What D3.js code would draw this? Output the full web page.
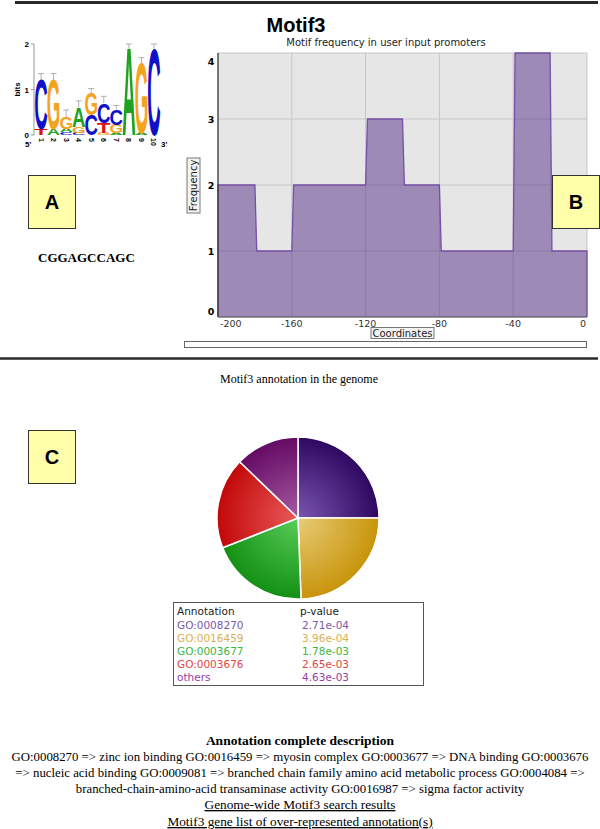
<!DOCTYPE html>
<html>
<head>
<meta charset="utf-8">
<script src="https://cdn.jsdelivr.net/npm/d3@7"></script>
<style>
  body { margin: 0; background: #fff; }
  svg { display: block; }
</style>
</head>
<body>
<div id="fig"></div>
<script>
// --- data ---

// sequence logo (panel A): letters per position, bottom to top, in bits
const logoPositions = [1, 2, 3, 4, 5, 6, 7, 8, 9, 10];
const logoStacks = [
  [['T', 0.13], ['C', 1.07]],
  [['A', 0.13], ['G', 1.07]],
  [['C', 0.06], ['A', 0.08], ['G', 0.24]],
  [['C', 0.04], ['G', 0.14], ['A', 0.42]],
  [['C', 0.44], ['G', 0.47]],
  [['G', 0.05], ['T', 0.22], ['C', 0.43]],
  [['A', 0.05], ['G', 0.18], ['C', 0.33]],
  [['A', 1.88]],
  [['A', 0.05], ['G', 1.52]],
  [['C', 1.86]]
];
const logoErrTop = [1.35, 1.35, 0.55, 0.75, 1.02, 0.85, 0.65, 2.0, 1.7, 2.0];
const logoTicks = [0, 1, 2];
const consensus = 'CGGAGCCAGC';

// motif frequency (panel B): 20-bp bins
const binStarts = [-200, -180, -160, -140, -120, -100, -80, -60, -40, -20];
const binCounts = [2, 1, 2, 2, 3, 2, 1, 1, 4, 1];
const coordTicks = [-200, -160, -120, -80, -40, 0];
const freqTicks = [0, 1, 2, 3, 4];

// annotation pie (panel C)
const annotations = ['GO:0008270', 'GO:0016459', 'GO:0003677', 'GO:0003676', 'others'];
const pValues = ['2.71e-04', '3.96e-04', '1.78e-03', '2.65e-03', '4.63e-03'];
const shares = [25, 24.4, 19.6, 18.2, 12.8];

const descLines = [
  'GO:0008270 => zinc ion binding GO:0016459 => myosin complex GO:0003677 => DNA binding GO:0003676',
  '=> nucleic acid binding GO:0009081 => branched chain family amino acid metabolic process GO:0004084 =>',
  'branched-chain-amino-acid transaminase activity GO:0016987 => sigma factor activity'
];
const linkLines = ['Genome-wide Motif3 search results', 'Motif3 gene list of over-represented annotation(s)'];

// --- drawing ---
const W = 600, H = 829;
const svg = d3.select('#fig').append('svg')
  .attr('width', W)
  .attr('height', H);

const sans = 'DejaVu Sans, sans-serif';
const arial = 'Liberation Sans, Arial, sans-serif';
const serif = 'Liberation Serif, Times New Roman, serif';

// separators
svg.append('line').attr('x1', 15).attr('x2', 598).attr('y1', 2.5).attr('y2', 2.5)
  .attr('stroke', '#2a2a2a').attr('stroke-width', 3);
svg.append('line').attr('x1', 0).attr('x2', 598).attr('y1', 358.5).attr('y2', 358.5)
  .attr('stroke', '#2a2a2a').attr('stroke-width', 2.5);

// ---------- panel A: sequence logo ----------
const letterColor = { A: '#1fa21f', C: '#1010c8', G: '#f4a31c', T: '#e01010' };
const xLogo = d3.scaleBand().domain(logoPositions).range([35, 160]).paddingInner(0.04);
const yLogo = d3.scaleLinear().domain([0, 2]).range([135, 44]);

const logo = svg.append('g');
logo.append('line').attr('x1', 34).attr('x2', 34).attr('y1', yLogo(2)).attr('y2', yLogo(0))
  .attr('stroke', '#999');
logo.selectAll('.lt').data(logoTicks).enter().append('line')
  .attr('x1', 31).attr('x2', 34)
  .attr('y1', (d) => yLogo(d)).attr('y2', (d) => yLogo(d))
  .attr('stroke', '#999');
logo.selectAll('.ltl').data(logoTicks).enter().append('text')
  .attr('x', 29).attr('y', (d) => yLogo(d) + 3)
  .attr('text-anchor', 'end')
  .attr('font-family', arial).attr('font-size', 8).attr('font-weight', 'bold')
  .text((d) => d);
logo.append('text')
  .attr('transform', `translate(20,${yLogo(1)}) rotate(-90)`)
  .attr('text-anchor', 'middle')
  .attr('font-family', arial).attr('font-size', 8).attr('font-weight', 'bold')
  .text('bits');

// error bars
logo.selectAll('.err').data(logoStacks).enter().append('path')
  .attr('d', (s, i) => {
    const cx = xLogo(logoPositions[i]) + xLogo.bandwidth() / 2;
    const top = d3.sum(s, (l) => l[1]);
    return `M${cx},${yLogo(top)}V${yLogo(logoErrTop[i])}M${cx - 3},${yLogo(logoErrTop[i])}H${cx + 3}`;
  })
  .attr('fill', 'none').attr('stroke', '#b0b0b0').attr('stroke-width', 1);

// letters: draw each glyph at 100px, then scale it into its box
const capH = 68.8;
logoStacks.forEach((stack, i) => {
  const x0 = xLogo(logoPositions[i]);
  const w = xLogo.bandwidth();
  let acc = 0;
  stack.forEach(([ch, bits]) => {
    const yb = yLogo(acc);
    const h = yLogo(0) - yLogo(bits);
    acc += bits;
    const t = logo.append('text')
      .attr('font-family', arial).attr('font-size', 100).attr('font-weight', 'bold')
      .attr('fill', letterColor[ch])
      .text(ch);
    const adv = t.node().getComputedTextLength();
    t.attr('transform', `translate(${x0 - w * 0.06},${yb}) scale(${(w * 1.12) / adv},${h / capH})`);
  });
});

// position numbers
logo.selectAll('.pn').data(logoPositions).enter().append('text')
  .attr('transform', (d) => `translate(${xLogo(d) + xLogo.bandwidth() / 2 - 2.5},138) rotate(90)`)
  .attr('font-family', arial).attr('font-size', 7).attr('font-weight', 'bold')
  .text((d) => d);
logo.append('text').attr('x', 25).attr('y', 147).attr('font-family', arial)
  .attr('font-size', 8).attr('font-weight', 'bold').text("5'");
logo.append('text').attr('x', 161).attr('y', 147).attr('font-family', arial)
  .attr('font-size', 8).attr('font-weight', 'bold').text("3'");

svg.append('text').attr('x', 38).attr('y', 262)
  .attr('font-family', serif).attr('font-size', 13).attr('font-weight', 'bold')
  .text(consensus);

// ---------- panel B: frequency step chart ----------
const plot = { left: 218, right: 587, top: 53, bottom: 317 };
const x = d3.scaleLinear().domain([-200, 0]).range([plot.left, plot.right]);
const y = d3.scaleLinear().domain([0, 4]).range([plot.bottom, plot.top]);

svg.append('text').attr('x', 296).attr('y', 32).attr('text-anchor', 'middle')
  .attr('font-family', arial).attr('font-size', 20).attr('font-weight', 'bold')
  .text('Motif3');
svg.append('text').attr('x', 386).attr('y', 46).attr('text-anchor', 'middle')
  .attr('font-family', sans).attr('font-size', 10).attr('fill', '#222')
  .text('Motif frequency in user input promoters');

svg.append('rect')
  .attr('x', plot.left).attr('y', plot.top)
  .attr('width', plot.right - plot.left).attr('height', plot.bottom - plot.top)
  .attr('fill', '#e6e6e6');

svg.selectAll('.gx').data(coordTicks).enter().append('line')
  .attr('x1', (d) => x(d)).attr('x2', (d) => x(d))
  .attr('y1', plot.top).attr('y2', plot.bottom)
  .attr('stroke', '#c6c6c6');
svg.selectAll('.gy').data(freqTicks).enter().append('line')
  .attr('x1', plot.left).attr('x2', plot.right)
  .attr('y1', (d) => y(d)).attr('y2', (d) => y(d))
  .attr('stroke', '#c6c6c6');

// step outline built from the bins (edges slant by one bp like the original)
const steps = [];
binStarts.forEach((s, i) => {
  steps.push([i === 0 ? s : s + 1, binCounts[i]]);
  steps.push([s + 20, binCounts[i]]);
});
const area = d3.area()
  .x((d) => x(d[0]))
  .y0(y(0))
  .y1((d) => y(d[1]));
const line = d3.line()
  .x((d) => x(d[0]))
  .y((d) => y(d[1]));

svg.append('path').datum(steps)
  .attr('d', area)
  .attr('fill', '#542d86').attr('fill-opacity', 0.5);
svg.append('path').datum([[-200, 0], ...steps, [0, 0]])
  .attr('d', line)
  .attr('fill', 'none').attr('stroke', '#7650a6').attr('stroke-width', 1.3);

svg.append('line').attr('x1', plot.left).attr('x2', plot.left)
  .attr('y1', plot.top).attr('y2', plot.bottom).attr('stroke', '#333').attr('stroke-width', 1.2);
svg.append('line').attr('x1', plot.left).attr('x2', plot.right)
  .attr('y1', plot.bottom).attr('y2', plot.bottom).attr('stroke', '#555');

// tick labels, ends pulled inside like the original
svg.selectAll('.xt').data(coordTicks).enter().append('text')
  .attr('x', (d, i) => (i === 0 ? x(d) + 2 : i === coordTicks.length - 1 ? x(d) - 1 : x(d)))
  .attr('y', 327)
  .attr('text-anchor', (d, i) => (i === 0 ? 'start' : i === coordTicks.length - 1 ? 'end' : 'middle'))
  .attr('font-family', sans).attr('font-size', 9.5).attr('fill', '#333')
  .text((d) => (d < 0 ? '-' + Math.abs(d) : d));
svg.selectAll('.yt').data(freqTicks).enter().append('text')
  .attr('x', 211)
  .attr('y', (d) => Math.min(Math.max(y(d), plot.top + 8), plot.bottom - 6) + 3.5)
  .attr('text-anchor', 'middle')
  .attr('font-family', sans).attr('font-size', 9.5).attr('font-weight', 'bold')
  .text((d) => d);

// axis title boxes
svg.append('rect').attr('x', 187).attr('y', 158).attr('width', 13).attr('height', 55)
  .attr('fill', '#f4f4f4').attr('stroke', '#777');
svg.append('text').attr('transform', 'translate(197,185.5) rotate(-90)')
  .attr('text-anchor', 'middle')
  .attr('font-family', sans).attr('font-size', 10).attr('fill', '#222')
  .text('Frequency');
svg.append('rect').attr('x', 371).attr('y', 327.5).attr('width', 63).attr('height', 11)
  .attr('fill', '#f4f4f4').attr('stroke', '#777');
svg.append('text').attr('x', 402.5).attr('y', 337).attr('text-anchor', 'middle')
  .attr('font-family', sans).attr('font-size', 10).attr('fill', '#222')
  .text('Coordinates');

// scrollbar strip
svg.append('rect').attr('x', 184.5).attr('y', 341.5).attr('width', 402).attr('height', 6)
  .attr('fill', '#fff').attr('stroke', '#666');

// ---------- panel labels ----------
const labels = [['A', 28, 175], ['B', 552, 175], ['C', 28, 430]];
labels.forEach(([t, lx, ly]) => {
  svg.append('rect').attr('x', lx + 0.5).attr('y', ly + 0.5).attr('width', 47).attr('height', 53)
    .attr('fill', '#ffffaa').attr('stroke', '#333');
  svg.append('text').attr('x', lx + 24).attr('y', ly + 34)
    .attr('text-anchor', 'middle')
    .attr('font-family', arial).attr('font-size', 20).attr('font-weight', 'bold')
    .text(t);
});

// ---------- panel C: annotation pie ----------
svg.append('text').attr('x', 299).attr('y', 383).attr('text-anchor', 'middle')
  .attr('font-family', serif).attr('font-size', 12)
  .text('Motif3 annotation in the genome');

const sliceEdge = ['#2e0860', '#c8940a', '#139013', '#c20808', '#640a64'];
const sliceMid = ['#7a55b0', '#e8cc78', '#58cc58', '#ea5a5a', '#a65aa2'];
const textColor = ['#7a58a8', '#d9b04e', '#3db53d', '#e04545', '#9440a2'];

const defs = svg.append('defs');
const cx = 298, cy = 518, r = 81;
shares.forEach((_, i) => {
  const g = defs.append('radialGradient').attr('id', 'sl' + i)
    .attr('gradientUnits', 'userSpaceOnUse')
    .attr('cx', 0).attr('cy', 0).attr('r', r);
  g.append('stop').attr('offset', '0').attr('stop-color', sliceMid[i]);
  g.append('stop').attr('offset', '1').attr('stop-color', sliceEdge[i]);
});

const pie = d3.pie().sort(null).value((d) => d);
const arc = d3.arc().innerRadius(0).outerRadius(r);
svg.append('g').attr('transform', `translate(${cx},${cy})`)
  .selectAll('path').data(pie(shares)).enter().append('path')
  .attr('d', arc)
  .attr('fill', (d, i) => `url(#sl${i})`)
  .attr('stroke', '#fff').attr('stroke-width', 1.5);

// legend table
svg.append('rect').attr('x', 173.5).attr('y', 602.5).attr('width', 250).attr('height', 83)
  .attr('fill', '#fff').attr('stroke', '#555');
svg.append('text').attr('x', 177).attr('y', 615)
  .attr('font-family', sans).attr('font-size', 10.5).attr('fill', '#222').text('Annotation');
svg.append('text').attr('x', 300).attr('y', 615)
  .attr('font-family', sans).attr('font-size', 10.5).attr('fill', '#222').text('p-value');
svg.selectAll('.ann').data(annotations).enter().append('text')
  .attr('x', 177).attr('y', (d, i) => 629 + i * 13)
  .attr('font-family', sans).attr('font-size', 10.5)
  .attr('fill', (d, i) => textColor[i])
  .text((d) => d);
svg.selectAll('.pv').data(pValues).enter().append('text')
  .attr('x', 302).attr('y', (d, i) => 629 + i * 13)
  .attr('font-family', sans).attr('font-size', 10.5)
  .attr('fill', (d, i) => textColor[i])
  .text((d) => d);

// ---------- description ----------
svg.append('text').attr('x', 300).attr('y', 745).attr('text-anchor', 'middle')
  .attr('font-family', serif).attr('font-size', 13.5).attr('font-weight', 'bold')
  .text('Annotation complete description');
svg.selectAll('.desc').data(descLines).enter().append('text')
  .attr('x', 300).attr('y', (d, i) => 761 + i * 16)
  .attr('text-anchor', 'middle')
  .attr('font-family', serif).attr('font-size', 12.8)
  .text((d) => d);
svg.selectAll('.lnk').data(linkLines).enter().append('text')
  .attr('x', 300).attr('y', (d, i) => 809 + i * 17)
  .attr('text-anchor', 'middle')
  .attr('font-family', serif).attr('font-size', 13.3)
  .attr('text-decoration', 'underline')
  .text((d) => d);
</script>
</body>
</html>
